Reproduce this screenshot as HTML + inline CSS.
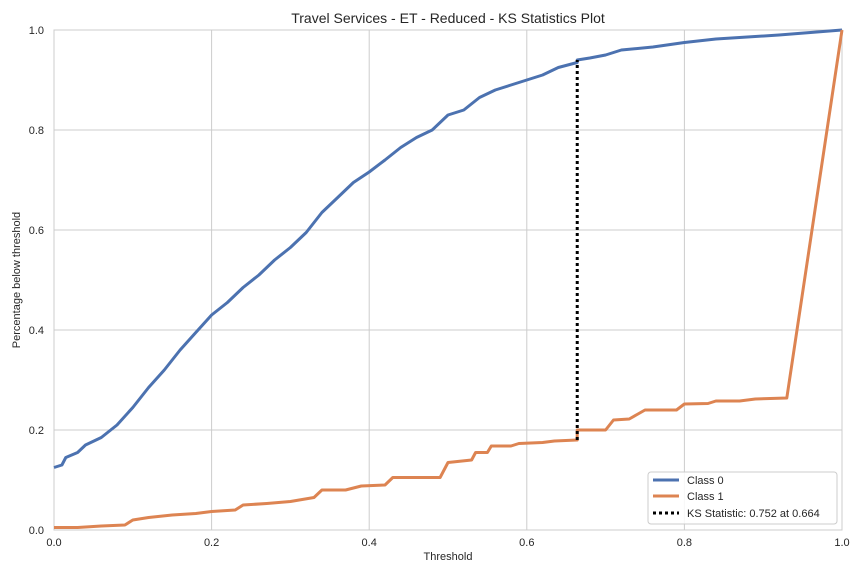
<!DOCTYPE html>
<html><head><meta charset="utf-8"><style>
body{margin:0;background:#fff;}
svg text{font-family:"Liberation Sans",Arial,sans-serif;fill:#262626;}
</style></head><body>
<svg id="chart" width="864" height="576" xmlns="http://www.w3.org/2000/svg">
<rect x="0" y="0" width="864" height="576" fill="#fff"/>
<g id="grid"></g>
<rect x="54" y="30" width="788" height="500" fill="none" stroke="#cccccc" stroke-width="1"/>
<g id="ticks"></g>
<g id="series"></g>
<text x="448" y="23" font-size="14" text-anchor="middle">Travel Services - ET - Reduced - KS Statistics Plot</text>
<text x="448" y="560" font-size="11" text-anchor="middle">Threshold</text>
<text transform="translate(20,280) rotate(-90)" font-size="11" text-anchor="middle">Percentage below threshold</text>
<g>
<rect x="648" y="472" width="189" height="52" rx="3" fill="#fff" fill-opacity="0.85" stroke="#cccccc"/>
<line x1="653" y1="480" x2="679" y2="480" stroke="#4c72b0" stroke-width="3"/>
<text x="687" y="484" font-size="11">Class 0</text>
<line x1="653" y1="496" x2="679" y2="496" stroke="#dd8452" stroke-width="3"/>
<text x="687" y="500" font-size="11">Class 1</text>
<line x1="653" y1="513" x2="679" y2="513" stroke="#000" stroke-width="3" stroke-dasharray="3,3"/>
<text x="687" y="517" font-size="11">KS Statistic: 0.752 at 0.664</text>
</g>
</svg>
<script>
const xTicks=[0,0.2,0.4,0.6,0.8,1.0];
const yTicks=[0,0.2,0.4,0.6,0.8,1.0];
const xTickLabels=["0.0","0.2","0.4","0.6","0.8","1.0"];
const yTickLabels=["0.0","0.2","0.4","0.6","0.8","1.0"];
const class0X=[0,0.01,0.015,0.03,0.04,0.06,0.08,0.1,0.12,0.14,0.16,0.18,0.2,0.22,0.24,0.26,0.28,0.3,0.32,0.34,0.36,0.38,0.4,0.42,0.44,0.46,0.48,0.5,0.52,0.54,0.56,0.58,0.6,0.62,0.64,0.664,0.664,0.68,0.7,0.72,0.76,0.8,0.84,0.88,0.92,1.0];
const class0Y=[0.125,0.13,0.145,0.155,0.17,0.185,0.21,0.245,0.285,0.32,0.36,0.395,0.43,0.455,0.485,0.51,0.54,0.565,0.595,0.635,0.665,0.695,0.716,0.74,0.765,0.785,0.80,0.83,0.84,0.865,0.88,0.89,0.90,0.91,0.925,0.935,0.94,0.944,0.95,0.96,0.966,0.975,0.982,0.986,0.99,1.0];
const class1X=[0,0.03,0.06,0.09,0.1,0.12,0.15,0.18,0.2,0.23,0.24,0.27,0.3,0.33,0.34,0.37,0.39,0.42,0.43,0.49,0.5,0.53,0.535,0.55,0.555,0.58,0.59,0.62,0.635,0.664,0.664,0.7,0.71,0.73,0.75,0.79,0.8,0.83,0.84,0.87,0.89,0.93,1.0];
const class1Y=[0.005,0.005,0.008,0.01,0.02,0.025,0.03,0.033,0.037,0.04,0.05,0.053,0.057,0.065,0.08,0.08,0.088,0.09,0.105,0.105,0.135,0.14,0.155,0.155,0.168,0.168,0.173,0.175,0.178,0.18,0.2,0.2,0.22,0.222,0.24,0.24,0.252,0.253,0.258,0.258,0.262,0.264,1.0];
const ksX=0.664, ksLow=0.18, ksHigh=0.94;
const NS="http://www.w3.org/2000/svg";
const sx=v=>54+v*788, sy=v=>530-v*500;
function mk(t,a,p){const e=document.createElementNS(NS,t);for(const k in a)e.setAttribute(k,a[k]);p.appendChild(e);return e;}
const grid=document.getElementById('grid'),ticks=document.getElementById('ticks'),series=document.getElementById('series');
xTicks.forEach((v,i)=>{
 const l=mk('line',{x1:sx(v),x2:sx(v),y1:30,y2:530,stroke:'#cccccc','stroke-width':1},grid);
 
 
 const t=mk('text',{x:sx(v),y:546,'font-size':11,'text-anchor':'middle'},ticks);t.textContent=xTickLabels[i];
 
 
});
yTicks.forEach((v,i)=>{
 const l=mk('line',{x1:54,x2:842,y1:sy(v),y2:sy(v),stroke:'#cccccc','stroke-width':1},grid);
 
 
 const t=mk('text',{x:44,y:sy(v)+4,'font-size':11,'text-anchor':'end'},ticks);t.textContent=yTickLabels[i];
 
 
});
function pts(X,Y){return X.map((x,i)=>sx(x).toFixed(1)+','+sy(Y[i]).toFixed(1)).join(' ');}
const p0=mk('polyline',{points:pts(class0X,class0Y),fill:'none',stroke:'#4c72b0','stroke-width':3,'stroke-linejoin':'round'},series);


const p1=mk('polyline',{points:pts(class1X,class1Y),fill:'none',stroke:'#dd8452','stroke-width':3,'stroke-linejoin':'round'},series);


const ks=mk('line',{x1:sx(ksX),x2:sx(ksX),y1:sy(ksLow),y2:sy(ksHigh),stroke:'#000','stroke-width':3,'stroke-dasharray':'3,3'},series);


</script>
</body></html>
